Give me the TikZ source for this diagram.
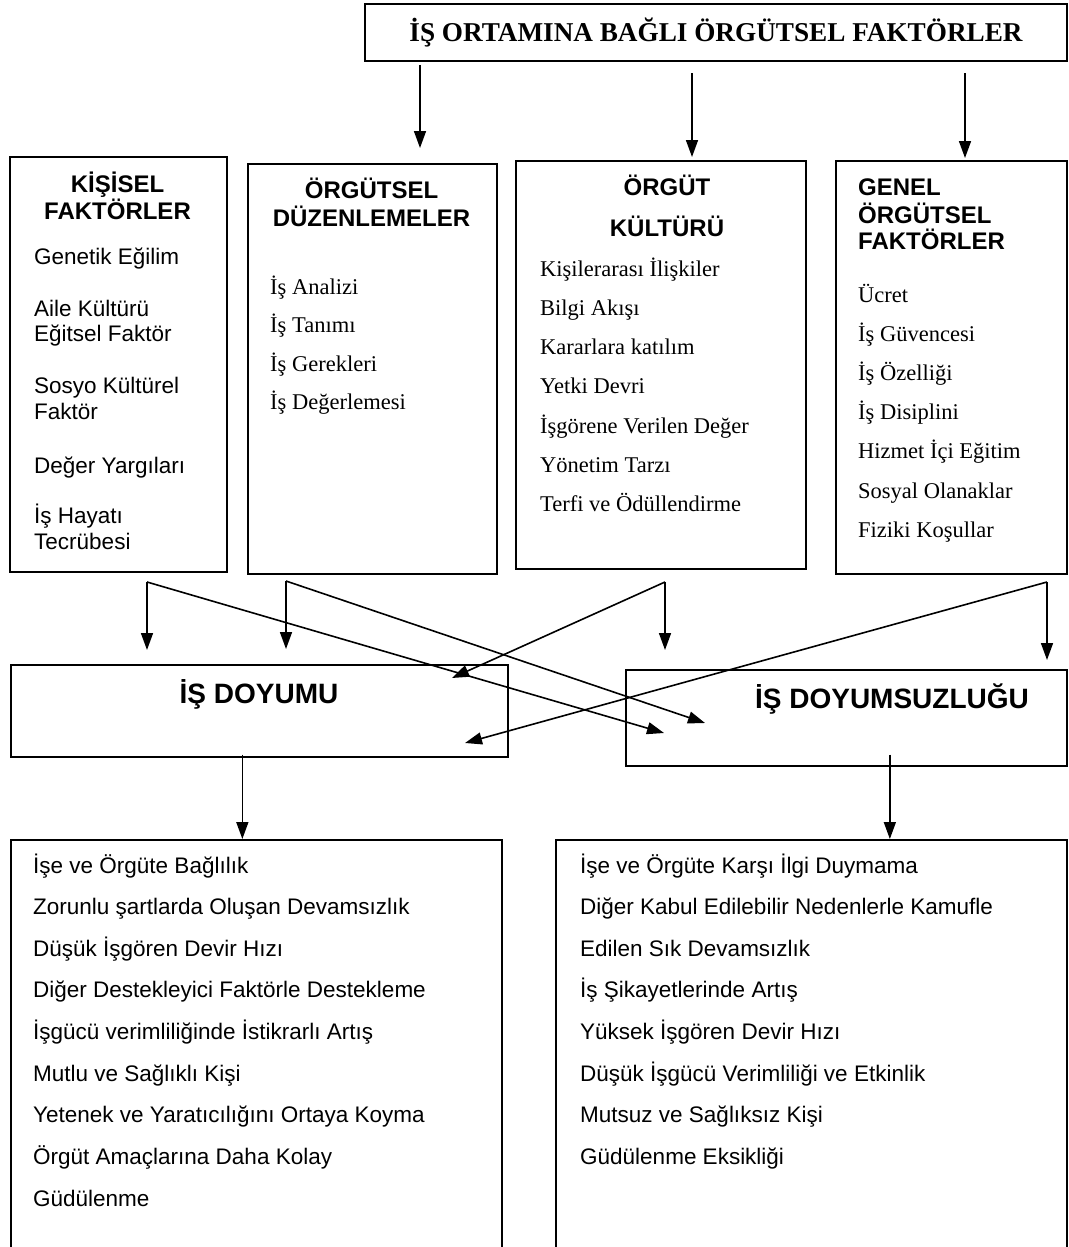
\documentclass[tikz,border=0pt]{standalone}
\usepackage{fontspec}
\setmainfont{Liberation Serif}
\setsansfont{Liberation Sans}
\usepackage{tikz}
\usetikzlibrary{arrows.meta}

\begin{document}
\begin{tikzpicture}[x=1pt,y=-1pt,
        kutu/.style={draw, line width=1.7pt, anchor=north west, inner sep=0pt},
        ok/.style={-{Triangle[length=17pt,width=12pt]}, line width=1.6pt},
        baslik/.style={font=\sffamily\bfseries\fontsize{24}{27}\selectfont, anchor=base, inner sep=0pt},
        madde/.style={font=\sffamily\fontsize{22.5}{25}\selectfont, anchor=base west, inner sep=0pt},
        tmadde/.style={font=\fontsize{22.5}{25}\selectfont, anchor=base west, inner sep=0pt}]
                \useasboundingbox (0,0) rectangle (1068,1247);
                \clip (0,0) rectangle (1068,1247);
                % Ust kutu
                \node[kutu, minimum width=702, minimum height=57] (top) at (364,3) {};
                \node[font=\bfseries\fontsize{27.2}{29}\selectfont, anchor=base, inner sep=0pt] (topT) at (716,42) {İŞ ORTAMINA BAĞLI ÖRGÜTSEL FAKTÖRLER};
                % Kisisel faktorler
                \node[kutu, minimum width=217, minimum height=415] (kis) at (9,156) {};
                \node[baslik] (kisT1) at (117.5,192) {KİŞİSEL};
                \node[baslik] (kisT2) at (117.5,219) {FAKTÖRLER};
                \foreach \y/\t [count=\i] in {264/Genetik Eğilim, 316/Aile Kültürü, 341/Eğitsel Faktör,
                    393/Sosyo Kültürel, 419/Faktör, 473/Değer Yargıları, 523/İş Hayatı, 549/Tecrübesi} {
                    \node[madde] (kis\i) at (34,\y) {\t};
                }
                % Orgutsel duzenlemeler
                \node[kutu, minimum width=249, minimum height=410] (duz) at (247,163) {};
                \node[baslik] (duzT1) at (371.5,198) {ÖRGÜTSEL};
                \node[baslik] (duzT2) at (371.5,226) {DÜZENLEMELER};
                \foreach \t [count=\i] in {İş Analizi, İş Tanımı, İş Gerekleri, İş Değerlemesi} {
                    \node[tmadde] (duz\i) at (270,{294+38.5*(\i-1)}) {\t};
                }
                % Orgut kulturu
                \node[kutu, minimum width=290, minimum height=408] (kul) at (515,160) {};
                \node[baslik] (kulT1) at (667,195) {ÖRGÜT};
                \node[baslik] (kulT2) at (667,236) {KÜLTÜRÜ};
                \foreach \t [count=\i] in {Kişilerarası İlişkiler, Bilgi Akışı, Kararlara katılım, Yetki Devri,
                    İşgörene Verilen Değer, Yönetim Tarzı, Terfi ve Ödüllendirme} {
                    \node[tmadde] (kul\i) at (540,{276+39.3*(\i-1)}) {\t};
                }
                % Genel orgutsel faktorler
                \node[kutu, minimum width=231, minimum height=413] (gen) at (835,160) {};
                \node[baslik, anchor=base west] (genT1) at (858,195) {GENEL};
                \node[baslik, anchor=base west] (genT2) at (858,223) {ÖRGÜTSEL};
                \node[baslik, anchor=base west] (genT3) at (858,249) {FAKTÖRLER};
                \foreach \t [count=\i] in {Ücret, İş Güvencesi, İş Özelliği, İş Disiplini, Hizmet İçi Eğitim,
                    Sosyal Olanaklar, Fiziki Koşullar} {
                    \node[tmadde] (gen\i) at (858,{302+39.2*(\i-1)}) {\t};
                }
                % Doyum ve doyumsuzluk
                \node[kutu, minimum width=497, minimum height=92] (doy) at (10,664) {};
                \node[baslik, font=\sffamily\bfseries\fontsize{28}{30}\selectfont] (doyT) at (259,703) {İŞ DOYUMU};
                \node[kutu, minimum width=441, minimum height=96] (dsz) at (625,669) {};
                \node[baslik, font=\sffamily\bfseries\fontsize{28}{30}\selectfont] (dszT) at (892,708) {İŞ DOYUMSUZLUĞU};
                % Sonuclar
                \node[kutu, minimum width=491, minimum height=430] (sol) at (10,839) {};
                \foreach \t [count=\i] in {İşe ve Örgüte Bağlılık, Zorunlu şartlarda Oluşan Devamsızlık,
                    Düşük İşgören Devir Hızı, Diğer Destekleyici Faktörle Destekleme,
                    İşgücü verimliliğinde İstikrarlı Artış, Mutlu ve Sağlıklı Kişi,
                    Yetenek ve Yaratıcılığını Ortaya Koyma, Örgüt Amaçlarına Daha Kolay, Güdülenme} {
                    \node[madde] (sol\i) at (33,{873+41.65*(\i-1)}) {\t};
                }
                \node[kutu, minimum width=511, minimum height=430] (sag) at (555,839) {};
                \foreach \t [count=\i] in {İşe ve Örgüte Karşı İlgi Duymama,
                    Diğer Kabul Edilebilir Nedenlerle Kamufle, Edilen Sık Devamsızlık,
                    İş Şikayetlerinde Artış, Yüksek İşgören Devir Hızı,
                    Düşük İşgücü Verimliliği ve Etkinlik, Mutsuz ve Sağlıksız Kişi, Güdülenme Eksikliği} {
                    \node[madde] (sag\i) at (580,{873+41.65*(\i-1)}) {\t};
                }
                % Ust oklar
                \coordinate (u1) at (420,65);
                \coordinate (u2) at (692,73);
                \coordinate (u3) at (965,73);
                \draw[ok, shorten >=15pt] (u1) -- (u1 |- duz.north);
                \draw[ok, shorten >=3pt] (u2) -- (u2 |- kul.north);
                \draw[ok, shorten >=2pt] (u3) -- (u3 |- gen.north);
                % Capraz oklar
                \coordinate (kisA) at (147,582);
                \coordinate (duzA) at (286,581);
                \coordinate (kulA) at (665,582);
                \coordinate (genA) at (1047,582);
                \coordinate (c1) at (664,733);
                \coordinate (c2) at (705,723);
                \coordinate (c3) at (452,678);
                \coordinate (c4) at (465,743);
                \draw[ok, shorten >=14pt] (kisA) -- (kisA |- doy.north);
                \draw[ok, shorten >=15pt] (duzA) -- (duzA |- doy.north);
                \draw[ok, shorten >=19pt] (kulA) -- (kulA |- dsz.north);
                \draw[ok, shorten >=9pt] (genA) -- (genA |- dsz.north);
                \draw[ok] (kisA) -- (c1);
                \draw[ok] (duzA) -- (c2);
                \draw[ok] (kulA) -- (c3);
                \draw[ok] (genA) -- (c4);
                % Alt oklar
                \draw[ok] ([xshift=-17pt, yshift=3pt]doy.south) -- ([xshift=-17pt]doy.south |- sol.north);
                \draw[ok] ([xshift=43.5pt, yshift=12pt]dsz.south) -- ([xshift=43.5pt]dsz.south |- sag.north);
\end{tikzpicture}
\end{document}
